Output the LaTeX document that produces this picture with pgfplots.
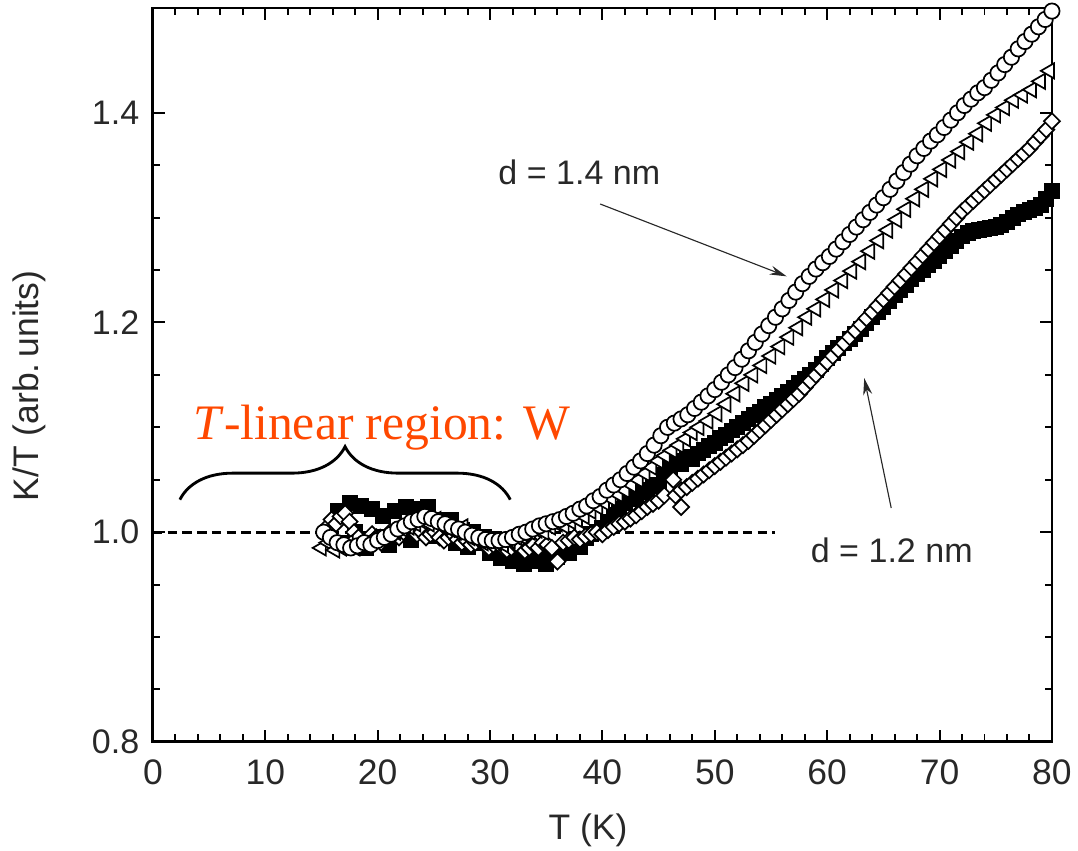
\documentclass[border=0pt]{standalone}
\usepackage{fontspec}
\setmainfont{Liberation Sans}
\newfontfamily\timesfont{Liberation Serif}
\usepackage{pgfplots}
\pgfplotsset{compat=1.18}
\usetikzlibrary{arrows.meta,decorations.pathreplacing}
\definecolor{annot}{RGB}{255,72,0}
\definecolor{txt}{RGB}{40,40,40}

\begin{document}
\begin{tikzpicture}
\begin{axis}[
    name=ax,
    scale only axis,
    width=316.9pt, height=258.7pt,
    xmin=0, xmax=80, ymin=0.8, ymax=1.5,
    xtick={0,10,...,80}, minor x tick num=4,
    ytick={0.8,1.0,1.2,1.4}, minor y tick num=3,
    xtick pos=both, ytick pos=both,
    xticklabel pos=bottom, yticklabel pos=left,
    tick align=inside,
    major tick length=4.2pt, minor tick length=2.6pt,
    every tick/.style={black, line width=0.7pt},
    axis line style={line width=1pt},
    /pgf/number format/assume math mode=true,
    yticklabel style={/pgf/number format/fixed, /pgf/number format/fixed zerofill,
        /pgf/number format/precision=1, font=\fontsize{12}{14}\selectfont, text=txt, xshift=-1.3pt},
    xticklabel style={font=\fontsize{12.5}{14}\selectfont, text=txt, yshift=-2.8pt},
    xlabel={T (K)},
    ylabel={K/T (arb.\,units)},
    xlabel style={font=\fontsize{12.5}{14}\selectfont, text=txt, at={(axis description cs:0.484,-0.12)}, anchor=center},
    ylabel style={font=\fontsize{12.5}{14}\selectfont, text=txt, at={(axis description cs:-0.137,0.485)}, anchor=center},
]

% filled squares (d = 1.2 nm)
\addplot[only marks, mark=square*, mark size=2.6pt, mark options={fill=black, draw=black}] coordinates {
(16.5,1.020) (17.0,0.990) (17.5,1.028) (18.0,1.000) (18.5,1.025) (19.0,0.985) (19.5,1.022) (20.0,0.995)
(20.5,1.015) (21.0,0.988) (21.5,1.020) (22.0,1.000) (22.5,1.024) (23.0,0.992) (23.5,1.022) (24.0,1.002)
(24.5,1.024) (25.0,0.996) (25.5,1.012) (26.0,1.000) (26.5,1.012) (27.0,0.990) (27.5,1.002) (28.0,0.986)
(28.5,1.000) (29.0,0.990) (29.5,0.995) (30.0,0.980) (30.5,0.990) (31.0,0.975) (31.5,0.985) (32.0,0.972)
(32.5,0.980) (33.0,0.970) (33.5,0.978) (34.0,0.972) (34.5,0.975) (35.0,0.970) (35.5,0.978) (36.0,0.976)
(36.5,0.984) (37.0,0.980) (37.5,0.990) (38.0,0.986) (38.5,0.994) (39.0,0.998) (39.5,1.000) (40.0,1.004)
(40.5,1.010) (41.0,1.016) (41.5,1.022) (42.0,1.028) (42.5,1.034) (43.0,1.032) (43.5,1.040) (44.0,1.038)
(44.5,1.045) (45.0,1.044) (45.5,1.055) (46.0,1.062) (46.5,1.068) (47.0,1.065) (47.5,1.072) (48.0,1.070)
(48.5,1.075) (49.0,1.078) (49.5,1.082) (50.0,1.085) (50.5,1.090) (51.0,1.093) (51.5,1.097) (52.0,1.100)
(52.5,1.104) (53.0,1.108) (53.5,1.112) (54.0,1.115) (54.5,1.119) (55.0,1.122) (55.5,1.126) (56.0,1.130)
(56.5,1.134) (57.0,1.138) (57.5,1.142) (58.0,1.146) (58.5,1.150) (59.0,1.155) (59.5,1.160) (60.0,1.166)
(60.5,1.171) (61.0,1.176) (61.5,1.180) (62.0,1.184) (62.5,1.189) (63.0,1.194) (63.5,1.199) (64.0,1.205)
(64.5,1.210) (65.0,1.215) (65.5,1.220) (66.0,1.226) (66.5,1.231) (67.0,1.236) (67.5,1.241) (68.0,1.246)
(68.5,1.250) (69.0,1.255) (69.5,1.259) (70.0,1.263) (70.5,1.268) (71.0,1.273) (71.5,1.278) (72.0,1.282)
(72.5,1.285) (73.0,1.287) (73.5,1.288) (74.0,1.289) (74.5,1.290) (75.0,1.291) (75.5,1.293) (76.0,1.296)
(76.5,1.300) (77.0,1.303) (77.5,1.305) (78.0,1.307) (78.5,1.309) (79.0,1.312) (79.5,1.318) (80.0,1.325)
};

% open diamonds
\addplot[only marks, mark=square*, mark size=2.0pt, mark options={rotate=45, fill=white, draw=black, line width=0.6pt}] coordinates {
(15.5,1.005) (15.9,1.012) (16.3,1.008) (16.7,1.015) (17.1,1.018) (17.5,1.010) (17.9,1.000) (18.3,0.995)
(18.7,0.990) (19.1,0.993) (19.5,0.998) (19.9,0.995) (20.3,0.990) (20.7,0.995) (21.1,1.000) (21.5,0.998)
(21.9,0.995) (22.3,1.000) (22.7,1.005) (23.1,1.002) (23.5,0.998) (23.9,1.000) (24.3,0.995) (24.7,0.998)
(25.1,1.000) (25.5,0.995) (25.9,0.992) (26.3,0.995) (26.7,0.998) (27.1,0.993) (27.5,0.990) (27.9,0.992)
(28.3,0.988) (28.7,0.990) (29.1,0.993) (29.5,0.988) (29.9,0.985) (30.3,0.988) (30.7,0.990) (31.1,0.985)
(31.5,0.983) (31.9,0.985) (32.3,0.988) (32.7,0.985) (33.1,0.982) (33.5,0.985) (33.9,0.988) (34.3,0.985)
(34.7,0.990) (35.1,0.988) (35.5,0.985) (36.0,0.972) (36.5,0.990) (37.0,0.992) (37.5,0.995) (38.0,0.993)
(38.5,0.996) (39.0,0.998) (39.5,1.000) (40.0,0.998) (40.5,1.002) (41.0,1.005) (41.5,1.008) (42.0,1.010)
(42.5,1.013) (43.0,1.016) (43.5,1.020) (44.0,1.024) (44.5,1.027) (45.0,1.030) (45.5,1.035) (46.3,1.050)
(46.5,1.035) (47.0,1.024) (47.0,1.040) (47.5,1.043) (48.0,1.047) (48.5,1.051) (49.0,1.055) (49.5,1.059)
(50.0,1.063) (50.5,1.067) (51.0,1.071) (51.5,1.075) (52.0,1.079) (52.5,1.083) (53.0,1.087) (53.5,1.092)
(54.0,1.097) (54.5,1.102) (55.0,1.107) (55.5,1.112) (56.0,1.117) (56.5,1.122) (57.0,1.127) (57.5,1.132)
(58.0,1.138) (58.5,1.144) (59.0,1.150) (59.5,1.156) (60.0,1.162) (60.5,1.168) (61.0,1.174) (61.5,1.180)
(62.0,1.186) (62.5,1.192) (63.0,1.198) (63.5,1.204) (64.0,1.210) (64.5,1.216) (65.0,1.222) (65.5,1.228)
(66.0,1.234) (66.5,1.240) (67.0,1.246) (67.5,1.252) (68.0,1.258) (68.5,1.264) (69.0,1.270) (69.5,1.276)
(70.0,1.282) (70.5,1.288) (71.0,1.294) (71.5,1.300) (72.0,1.306) (72.5,1.311) (73.0,1.316) (73.5,1.321)
(74.0,1.326) (74.5,1.331) (75.0,1.336) (75.5,1.341) (76.0,1.346) (76.5,1.351) (77.0,1.356) (77.5,1.361)
(78.0,1.366) (78.5,1.372) (79.0,1.378) (79.5,1.384) (80.0,1.392)
};

% open left-pointing triangles
\addplot[only marks, mark=triangle*, mark size=3.1pt, mark options={rotate=90, fill=white, draw=black, line width=0.6pt}] coordinates {
(15.0,0.985) (15.6,0.990) (16.2,0.983) (16.8,0.985) (17.4,0.990) (18.0,0.985) (18.6,0.988) (19.2,0.990)
(19.8,0.995) (20.4,0.993) (21.0,0.998) (21.6,1.000) (22.2,1.003) (22.8,1.005) (23.4,1.008) (24.0,1.010)
(24.6,1.008) (25.2,1.012) (25.8,1.005) (26.4,1.003) (27.0,1.000) (27.6,1.005) (28.2,0.995) (28.8,0.993)
(29.4,0.990) (30.0,0.992) (30.6,0.990) (31.2,0.988) (31.8,0.992) (32.4,0.995) (33.0,0.998) (33.6,1.000)
(34.2,1.002) (34.8,1.000) (35.4,1.005) (36.0,1.008) (36.6,1.006) (37.2,1.010) (37.8,1.012) (38.4,1.015)
(39.0,1.020) (39.6,1.024) (40.2,1.028) (40.8,1.032) (41.4,1.036) (42.0,1.040) (42.6,1.045) (43.2,1.050)
(43.8,1.056) (44.4,1.062) (45.0,1.068) (45.6,1.073) (46.2,1.078) (46.8,1.083) (47.4,1.089) (48.0,1.095)
(48.6,1.100) (49.4,1.106) (50.2,1.113) (51.0,1.122) (51.8,1.132) (52.6,1.142) (53.4,1.150) (54.2,1.159)
(55.0,1.168) (55.8,1.177) (56.6,1.186) (57.4,1.195) (58.2,1.205) (59.0,1.213) (59.8,1.222) (60.6,1.231)
(61.4,1.240) (62.2,1.249) (63.0,1.258) (63.8,1.268) (64.6,1.278) (65.4,1.288) (66.2,1.298) (67.0,1.308)
(67.8,1.318) (68.6,1.327) (69.4,1.337) (70.2,1.346) (71.0,1.355) (71.8,1.363) (72.6,1.372) (73.4,1.380)
(74.2,1.390) (75.0,1.398) (75.8,1.405) (76.6,1.412) (77.4,1.417) (78.2,1.422) (79.0,1.430) (79.8,1.440)
};

% open circles (d = 1.4 nm)
\addplot[only marks, mark=*, mark size=2.7pt, mark options={fill=white, draw=black, line width=0.6pt}] coordinates {
(15.2,1.000) (15.8,0.995) (16.4,0.990) (17.0,0.988) (17.6,0.985) (18.2,0.987) (18.8,0.990) (19.4,0.988)
(20.0,0.992) (20.6,0.995) (21.2,0.998) (21.8,1.003) (22.4,1.006) (23.0,1.010) (23.6,1.012) (24.2,1.015)
(24.8,1.013) (25.4,1.010) (26.0,1.008) (26.6,1.005) (27.2,1.003) (27.8,1.000) (28.4,0.997) (29.0,0.995)
(29.6,0.993) (30.2,0.992) (30.8,0.992) (31.4,0.993) (32.0,0.995) (32.6,0.998) (33.2,1.000) (33.8,1.003)
(34.4,1.006) (35.0,1.008) (35.6,1.010) (36.2,1.012) (36.8,1.015) (37.4,1.018) (38.0,1.022) (38.6,1.025)
(39.2,1.030) (39.8,1.034) (40.4,1.040) (41.0,1.045) (41.6,1.050) (42.2,1.056) (42.8,1.062) (43.4,1.068)
(44.0,1.075) (44.6,1.083) (45.2,1.092) (45.8,1.100) (46.4,1.104) (47.0,1.108) (47.6,1.112) (48.2,1.118)
(48.8,1.124) (49.4,1.130) (50.0,1.136) (50.6,1.143) (51.2,1.150) (51.8,1.157) (52.4,1.165) (53.0,1.173)
(53.6,1.181) (54.2,1.189) (54.8,1.197) (55.4,1.205) (56.0,1.213) (56.6,1.221) (57.2,1.229) (57.8,1.237)
(58.4,1.244) (59.0,1.251) (59.6,1.257) (60.2,1.263) (60.8,1.270) (61.4,1.277) (62.0,1.284) (62.6,1.291)
(63.2,1.298) (63.8,1.305) (64.4,1.312) (65.0,1.319) (65.6,1.327) (66.2,1.335) (66.8,1.343) (67.4,1.351)
(68.0,1.359) (68.6,1.366) (69.2,1.373) (69.8,1.379) (70.4,1.386) (71.0,1.393) (71.6,1.400) (72.2,1.407)
(72.8,1.413) (73.4,1.419) (74.0,1.424) (74.6,1.431) (75.2,1.438) (75.8,1.446) (76.4,1.453) (77.0,1.461)
(77.6,1.468) (78.2,1.475) (78.8,1.482) (79.4,1.489) (80.0,1.497)
};

% reference line and annotations
\draw[line width=0.95pt, dash pattern=on 3.3pt off 1.9pt] (axis cs:0,1.0) -- (axis cs:55.4,1.0);
\draw[line width=1pt, decorate, decoration={brace, amplitude=18.7pt}]
    (axis cs:2.4,1.031) -- (axis cs:31.8,1.031);
\node[anchor=base west, inner sep=0, text=annot, font=\timesfont\fontsize{17.5}{20}\selectfont]
    at (axis cs:3.56,1.088) {\textit{T}-linear region: W};
\node[anchor=base west, inner sep=0, text=txt, font=\fontsize{12}{14}\selectfont]
    at (axis cs:30.7,1.332) {d = 1.4 nm};
\node[anchor=base west, inner sep=0, text=txt, font=\fontsize{12}{14}\selectfont]
    at (axis cs:58.5,0.971) {d = 1.2 nm};
\draw[txt, line width=0.4pt, -{Stealth[length=6pt, width=3.2pt]}] (axis cs:39.8,1.313) -- (axis cs:56.4,1.244);
\draw[txt, line width=0.4pt, -{Stealth[length=6pt, width=3.2pt]}] (axis cs:65.7,1.023) -- (axis cs:63.3,1.147);
\end{axis}
\pgfresetboundingbox
\path ([xshift=-53.9pt,yshift=-38.4pt]ax.south west) rectangle ([xshift=9.2pt,yshift=2.8pt]ax.north east);
\end{tikzpicture}
\end{document}
